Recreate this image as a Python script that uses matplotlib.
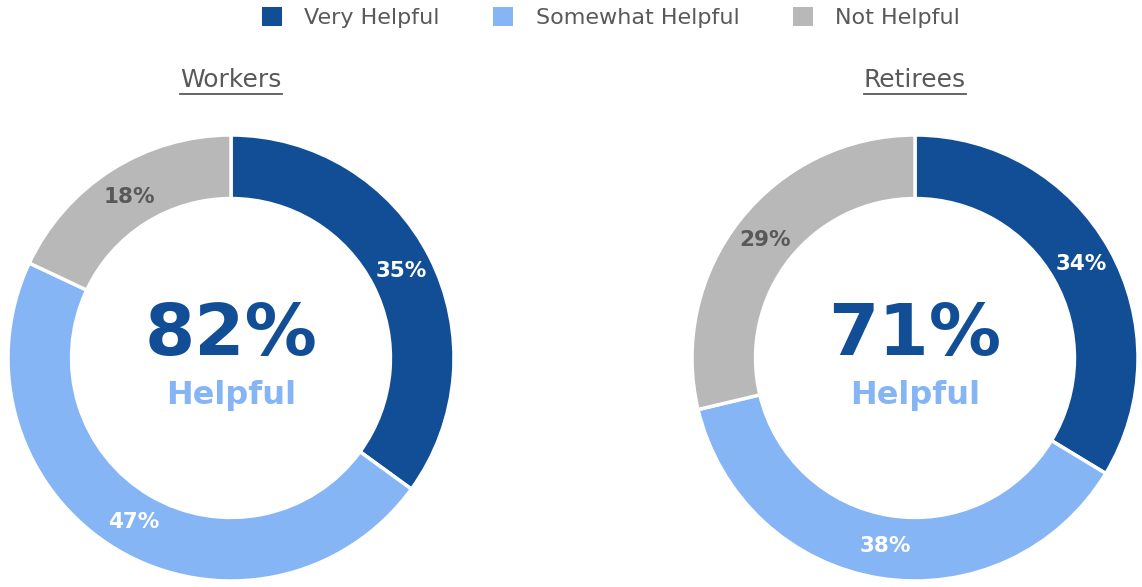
import matplotlib.pyplot as plt
from matplotlib.patches import Patch
from matplotlib.lines import Line2D

categories = ['Very Helpful', 'Somewhat Helpful', 'Not Helpful']
groups = ['Workers', 'Retirees']
workers = [35, 47, 18]
retirees = [34, 38, 29]
helpful_totals = ['82%', '71%']

colors = ['#124E96', '#86B5F5', '#B8B8B8']
label_colors = ['white', 'white', '#595959']
gray_text = '#595959'

plt.rcParams['font.family'] = 'DejaVu Sans'

fig = plt.figure(figsize=(11.42, 5.87), dpi=100)
W, H = 1142, 587

centers = [231, 915]
cy = 358
R = 223

for i, (name, vals) in enumerate(zip(groups, [workers, retirees])):
    cx = centers[i]
    ax = fig.add_axes([(cx - R) / W, (H - cy - R) / H, 2 * R / W, 2 * R / H])
    wedges, texts, autotexts = ax.pie(
        vals, colors=colors, startangle=90, counterclock=False, radius=1,
        autopct='%d%%', pctdistance=0.855,
        wedgeprops=dict(width=0.285, edgecolor='white', linewidth=2.5))
    for t, v, c in zip(autotexts, vals, label_colors):
        t.set_text(f'{v}%')
        t.set_color(c)
        t.set_fontsize(15.5)
        t.set_fontweight('bold')
    ax.set_xlim(-1.0, 1.0)
    ax.set_ylim(-1.0, 1.0)
    ax.set_aspect('equal')
    ax.axis('off')
    ax.text(0, 0.1, helpful_totals[i], ha='center', va='center',
            fontsize=52, fontweight='bold', color='#124E96')
    ax.text(0, -0.17, 'Helpful', ha='center', va='center',
            fontsize=23, fontweight='bold', color='#86B5F5')

    # underlined group title
    t = fig.text(cx / W, 1 - 80 / H, name, ha='center', va='center',
                 fontsize=18, color=gray_text)
    fig.canvas.draw()
    bb = t.get_window_extent().transformed(fig.transFigure.inverted())
    fig.add_artist(Line2D([bb.x0, bb.x1], [bb.y0 - 0.003, bb.y0 - 0.003],
                          color=gray_text, linewidth=1.3,
                          transform=fig.transFigure))

handles = [Patch(facecolor=c, edgecolor='none') for c in colors]
fig.legend(handles, categories, loc='upper center', bbox_to_anchor=(0.535, 1.022),
           ncol=3, frameon=False, fontsize=16, handlelength=0.9,
           handleheight=0.9, columnspacing=2.4, handletextpad=1.0,
           labelcolor=gray_text)

fig.savefig('out.png', dpi=100, facecolor='white')
